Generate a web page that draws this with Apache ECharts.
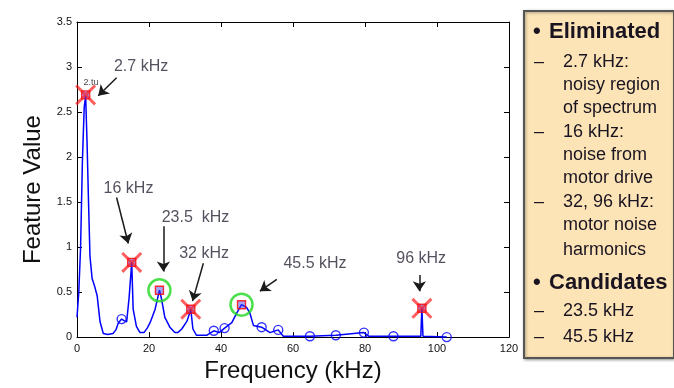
<!DOCTYPE html>
<html><head><meta charset="utf-8">
<script src="https://cdn.jsdelivr.net/npm/echarts@6/dist/echarts.min.js"></script>
<style>html,body{margin:0;padding:0;background:#fff}#c{width:674px;height:388px}</style>
</head><body><div id="c"></div>
<script>
// ---- data ----
const freqKHz = [0, 0.5, 1.0, 1.5, 2.0, 2.4, 2.8, 3.2, 3.6, 4.2, 5.0, 5.6, 6.4, 7.3, 8.5, 10.0, 10.8, 11.5, 12.4, 13.2, 13.8, 14.5, 15.2, 15.6, 16.5, 17.5, 18.6, 19.5, 20.3, 21.7, 22.9, 23.5, 24.4, 25.8, 27.2, 28.0, 29.1, 30.6, 31.6, 32.2, 33.2, 36.0, 38.0, 39.5, 41.0, 43.0, 44.4, 45.7, 47.1, 48.0, 49.0, 51.3, 53.6, 55.9, 57.3, 64.7, 71.9, 79.7, 81.0, 87.9, 95.5, 95.8, 96.1, 102.7];
const featureValue = [0.22, 0.5, 1.0, 1.95, 2.55, 2.68, 2.15, 1.5, 0.9, 0.65, 0.55, 0.46, 0.17, 0.04, 0.03, 0.04, 0.08, 0.16, 0.2, 0.18, 0.17, 0.45, 0.83, 0.31, 0.12, 0.05, 0.05, 0.1, 0.16, 0.31, 0.52, 0.42, 0.22, 0.11, 0.05, 0.05, 0.09, 0.18, 0.31, 0.09, 0.02, 0.02, 0.07, 0.05, 0.1, 0.16, 0.27, 0.36, 0.33, 0.27, 0.13, 0.11, 0.05, 0.08, 0.01, 0.01, 0.02, 0.05, 0.01, 0.01, 0.01, 0.32, 0.01, 0.0];
const circleFreq = [12.4, 38.0, 41.0, 51.3, 55.9, 64.7, 71.9, 79.7, 87.9, 102.7];
const circleVal = [0.2, 0.07, 0.1, 0.11, 0.08, 0.01, 0.02, 0.05, 0.01, 0.0];
const eliminatedFreq = [2.4, 15.2, 31.6, 95.8];
const eliminatedVal = [2.69, 0.83, 0.31, 0.32];
const candidateFreq = [22.9, 45.7];
const candidateVal = [0.52, 0.36];
const annotationText = ['2.7 kHz', '16 kHz', '23.5  kHz', '32 kHz', '45.5 kHz', '96 kHz'];
const annotationFreq = [17.8, 14.3, 32.9, 35.3, 66.1, 95.6];
const annotationVal = [3.0, 1.65, 1.33, 0.93, 0.82, 0.87];
const arrowFromFreq = [11.0, 11.0, 24.0, 35.1, 55.5, 95.1];
const arrowFromVal = [2.88, 1.55, 1.23, 0.82, 0.64, 0.69];
const arrowToFreq = [5.9, 14.25, 24.0, 32.1, 50.8, 95.1];
const arrowToVal = [2.68, 1.04, 0.73, 0.40, 0.51, 0.51];
const xTicks = {min: 0, max: 120, interval: 20};
const yTicks = {min: 0, max: 3.5, interval: 0.5};
const panelLines = [
  {t: '•', bold: true, x: 0}, {t: 'Eliminated', bold: true, x: 1},
  {t: '–', x: 2}, {t: '2.7 kHz:', x: 3},
  {t: 'noisy region', x: 3},
  {t: 'of spectrum', x: 3},
  {t: '–', x: 2}, {t: '16 kHz:', x: 3},
  {t: 'noise from', x: 3},
  {t: 'motor drive', x: 3},
  {t: '–', x: 2}, {t: '32, 96 kHz:', x: 3},
  {t: 'motor noise', x: 3},
  {t: 'harmonics', x: 3},
  {t: '•', bold: true, x: 0}, {t: 'Candidates', bold: true, x: 1},
  {t: '–', x: 2}, {t: '23.5 kHz', x: 3},
  {t: '–', x: 2}, {t: '45.5 kHz', x: 3}
];
const panelRowY = [32, 32, 62, 62, 85, 108, 132, 132, 155, 178, 202, 202, 225, 250, 283, 283, 311, 311, 337, 337];

// ---- chart ----
const FONT = '"Liberation Sans", Arial, sans-serif';
const X_PATH = 'path://M0,2L2,0L10,8L18,0L20,2L12,10L20,18L18,20L10,12L2,20L0,18L8,10Z';
const pairs = (a, b) => a.map((v, i) => [v, b[i]]);
const colX = [533, 549, 534, 563];

const chart = echarts.init(document.getElementById('c'), null, {renderer: 'canvas'});
const axisCommon = () => ({
  axisLine: {show: true, onZero: false, lineStyle: {color: '#000', width: 1}},
  axisTick: {show: true, inside: true, length: 5, lineStyle: {color: '#000'}},
  splitLine: {show: false}
});
const graphics = [{
  type: 'rect', left: 523, top: 10, shape: {width: 150, height: 347},
  style: {fill: '#FCE4B7', stroke: '#555', lineWidth: 2, shadowBlur: 3, shadowColor: 'rgba(0,0,0,0.35)', shadowOffsetX: 1, shadowOffsetY: 1},
  z: 1
}];
panelLines.forEach((p, i) => {
  graphics.push({
    type: 'text', x: colX[p.x], y: panelRowY[i], z: 2,
    style: {text: p.t, fill: '#1a1420', font: (p.bold ? 'bold 22px ' : '18px ') + FONT, textVerticalAlign: 'middle', verticalAlign: 'middle'}
  });
});

chart.setOption({
  animation: false,
  backgroundColor: '#fff',
  grid: {left: 77, right: 165, top: 22, bottom: 46.5, containLabel: false},
  xAxis: [
    Object.assign({type: 'value', min: xTicks.min, max: xTicks.max, interval: xTicks.interval,
      name: 'Frequency (kHz)', nameLocation: 'middle', nameGap: 18,
      nameTextStyle: {fontSize: 24, color: '#111', fontFamily: FONT},
      axisLabel: {fontSize: 11, color: '#111', fontFamily: FONT, margin: 6}}, axisCommon()),
    Object.assign({type: 'value', position: 'top', min: xTicks.min, max: xTicks.max, interval: xTicks.interval,
      axisLabel: {show: false}}, axisCommon())
  ],
  yAxis: [
    Object.assign({type: 'value', min: yTicks.min, max: yTicks.max, interval: yTicks.interval,
      name: 'Feature Value', nameLocation: 'middle', nameGap: 29, nameRotate: 90,
      nameTextStyle: {fontSize: 24, color: '#111', fontFamily: FONT, padding: [0, 20, 0, 0]},
      axisLabel: {fontSize: 11, color: '#111', fontFamily: FONT, margin: 5}}, axisCommon()),
    Object.assign({type: 'value', position: 'right', min: yTicks.min, max: yTicks.max, interval: yTicks.interval,
      axisLabel: {show: false}}, axisCommon())
  ],
  series: [
    {type: 'line', data: pairs(freqKHz, featureValue), symbol: 'none', z: 2,
      lineStyle: {color: '#0000FF', width: 1.5}},
    {type: 'scatter', data: pairs(circleFreq, circleVal), symbol: 'circle', symbolSize: 9, z: 3,
      itemStyle: {color: 'rgba(0,0,0,0)', borderColor: '#0000FF', borderWidth: 1.4}},
    {type: 'scatter', data: pairs(eliminatedFreq.concat(candidateFreq), eliminatedVal.concat(candidateVal)),
      symbol: 'rect', symbolSize: 8, z: 4,
      itemStyle: {color: 'rgba(60,60,255,0.6)', borderColor: '#FF0000', borderWidth: 1.4}},
    {type: 'scatter', data: pairs(eliminatedFreq, eliminatedVal), symbol: X_PATH, symbolSize: 21, z: 5,
      itemStyle: {color: 'rgba(255,20,20,0.85)'}},
    {type: 'scatter', data: pairs(candidateFreq, candidateVal), symbol: 'circle', symbolSize: 22, z: 5,
      itemStyle: {color: 'rgba(0,0,0,0)', borderColor: '#1ED81E', borderWidth: 2.5}},
    {type: 'lines', coordinateSystem: 'cartesian2d', z: 6,
      symbol: ['none', 'arrow'], symbolSize: [0, 10],
      lineStyle: {color: '#1a1a1a', width: 1.5, opacity: 1},
      data: arrowFromFreq.map((f, i) => ({coords: [[f, arrowFromVal[i]], [arrowToFreq[i], arrowToVal[i]]]}))},
    {type: 'scatter', z: 7, symbolSize: 1, itemStyle: {color: 'rgba(0,0,0,0)'},
      data: annotationText.map((t, i) => ({value: [annotationFreq[i], annotationVal[i]], name: t})),
      label: {show: true, position: 'inside', formatter: p => p.name,
        fontSize: 16, color: '#2a2436', fontFamily: FONT}},
    {type: 'scatter', z: 7, symbolSize: 1, itemStyle: {color: 'rgba(0,0,0,0)'},
      data: [{value: [3.9, 2.83], name: '2.tu'}],
      label: {show: true, position: 'inside', formatter: p => p.name, fontSize: 9, color: '#111', fontFamily: FONT}}
  ],
  graphic: graphics
});
</script></body></html>
